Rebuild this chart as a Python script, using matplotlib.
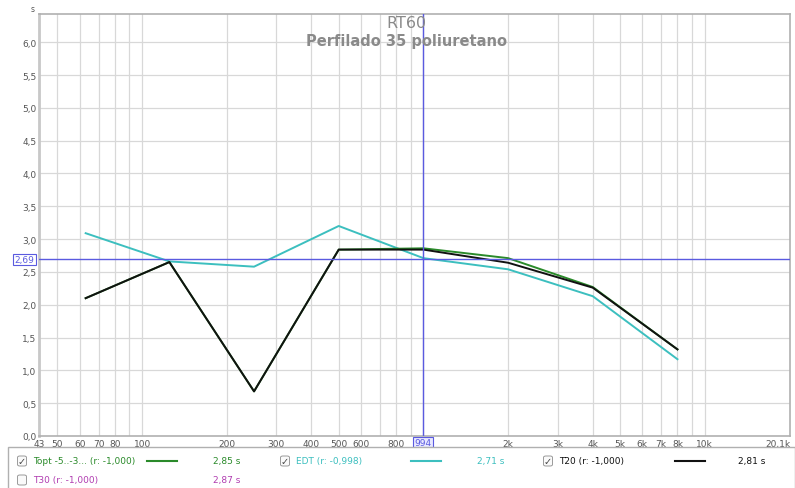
import matplotlib
matplotlib.use("Agg")
import matplotlib.pyplot as plt
from matplotlib.patches import FancyBboxPatch, Rectangle
from matplotlib.ticker import FixedLocator, NullFormatter, NullLocator

# ---- data ----
freqs = [63, 125, 250, 500, 1000, 2000, 4000, 8000]
topt = [2.10, 2.65, 0.68, 2.84, 2.86, 2.71, 2.27, 1.32]
edt = [3.09, 2.66, 2.58, 3.20, 2.71, 2.54, 2.13, 1.17]
t20 = [2.10, 2.65, 0.68, 2.84, 2.84, 2.64, 2.26, 1.32]

x_tick_vals = [43, 50, 60, 70, 80, 100, 200, 300, 400, 500, 600, 800, 2000, 3000, 4000, 5000, 6000, 7000, 8000, 10000, 20100]
x_tick_labels = ["43", "50", "60", "70", "80", "100", "200", "300", "400", "500", "600", "800", "2k", "3k", "4k", "5k", "6k", "7k", "8k", "10k", "20,1k"]
x_grid_vals = [50, 60, 70, 80, 90, 100, 200, 300, 400, 500, 600, 700, 800, 900, 1000,
               2000, 3000, 4000, 5000, 6000, 7000, 8000, 9000, 10000]
y_tick_vals = [0.0, 0.5, 1.0, 1.5, 2.0, 2.5, 3.0, 3.5, 4.0, 4.5, 5.0, 5.5, 6.0]
y_tick_labels = ["0,0", "0,5", "1,0", "1,5", "2,0", "2,5", "3,0", "3,5", "4,0", "4,5", "5,0", "5,5", "6,0"]

cursor_x = 994
cursor_y = 2.69

legend_names = ["Topt -5..-3... (r: -1,000)", "EDT (r: -0,998)", "T20 (r: -1,000)", "T30 (r: -1,000)"]
legend_values = ["2,85 s", "2,71 s", "2,81 s", "2,87 s"]
legend_checked = [True, True, True, False]

c_green = "#2a8a2a"
c_cyan = "#3cbfbf"
c_black = "#111111"
c_mag = "#b03cb0"
c_blue = "#5a5ae0"
grid_c = "#d8d8d8"
txt_c = "#555555"

W, H = 795, 489
fig = plt.figure(figsize=(W / 100, H / 100), dpi=100)
ax = fig.add_axes([39 / W, (H - 437) / H, 751 / W, (437 - 15) / H])
ax.set_xscale("log")
ax.set_xlim(43, 20100)
ax.set_ylim(0, 6.43)

ax.xaxis.set_major_locator(FixedLocator(x_tick_vals))
ax.set_xticklabels(x_tick_labels)
ax.xaxis.set_minor_locator(NullLocator())
ax.xaxis.set_minor_formatter(NullFormatter())
ax.set_yticks(y_tick_vals)
ax.set_yticklabels(y_tick_labels)
ax.tick_params(axis="both", length=0, labelsize=6.5, labelcolor=txt_c, pad=2)
ax.get_xticklabels()[-1].set_horizontalalignment("right")

for xv in x_grid_vals:
    ax.axvline(xv, color=grid_c, lw=0.9, zorder=0)
for yv in y_tick_vals[1:]:
    ax.axhline(yv, color=grid_c, lw=0.9, zorder=0)

for s in ax.spines.values():
    s.set_color("#b0b0b0")
    s.set_linewidth(1.2)
ax.spines["left"].set_linewidth(2.0)
ax.spines["left"].set_color("#c8c8c8")

ax.plot(freqs, edt, color=c_cyan, lw=1.4, zorder=3)
ax.plot(freqs, topt, color=c_green, lw=1.4, zorder=4)
ax.plot(freqs, t20, color=c_black, lw=1.4, zorder=5)

ax.axhline(cursor_y, color=c_blue, lw=1.0, zorder=6)
ax.axvline(cursor_x, color=c_blue, lw=1.0, zorder=6)

ax.text(cursor_x, -0.03, "994", ha="center", va="top", fontsize=6.5, color=c_blue, clip_on=False,
        bbox=dict(boxstyle="square,pad=0.15", fc="#e8e8ff", ec=c_blue, lw=0.8))
ax.text(41.5, cursor_y, "2,69", ha="right", va="center", fontsize=6.5, color=c_blue, clip_on=False,
        bbox=dict(boxstyle="square,pad=0.15", fc="white", ec=c_blue, lw=0.8))

fig.text(406 / W, 1 - 24 / H, "RT60", ha="center", va="center",
         fontsize=11.5, color="#8a8a8a")
fig.text(406 / W, 1 - 42 / H, "Perfilado 35 poliuretano", ha="center", va="center",
         fontsize=10.5, color="#8a8a8a", fontweight="bold")
fig.text(33 / W, 1 - 9 / H, "s", ha="center", va="center", fontsize=5.5, color=txt_c)

# ---- legend panel ----
fig.patches.append(Rectangle((8 / W, -0.01), (W - 8) / W, (H - 448) / H + 0.01,
                             transform=fig.transFigure, fc="white", ec="#b0b0b0", lw=1.0))

legend_colors = [c_green, c_cyan, c_black, c_mag]
cols = [(22, 462), (285, 462), (548, 462), (22, 481)]
line_off = [(125, 155), (126, 156), (127, 157), None]
val_x = [213, 477, 738, 213]
for i, (cx, cy) in enumerate(cols):
    fy = 1 - cy / H
    fig.patches.append(FancyBboxPatch((cx / W - 4.5 / W, fy - 5 / H), 9 / W, 10 / H,
                                      boxstyle="round,pad=0,rounding_size=0.003",
                                      transform=fig.transFigure, fc="#fafafa", ec="#9a9a9a", lw=0.7))
    if legend_checked[i]:
        fig.text(cx / W, fy, "✓", ha="center", va="center", fontsize=7, color="#444444")
    fig.text((cx + 11) / W, fy, legend_names[i], ha="left", va="center", fontsize=6.5,
             color=legend_colors[i])
    if line_off[i] is not None:
        a, b = line_off[i]
        fig.add_artist(plt.Line2D([(cx + a) / W, (cx + b) / W], [fy, fy],
                                  transform=fig.transFigure, color=legend_colors[i], lw=1.5))
    fig.text(val_x[i] / W, fy, legend_values[i], ha="left", va="center", fontsize=6.5,
             color=legend_colors[i])

fig.savefig("out.png", dpi=100, facecolor="white")
